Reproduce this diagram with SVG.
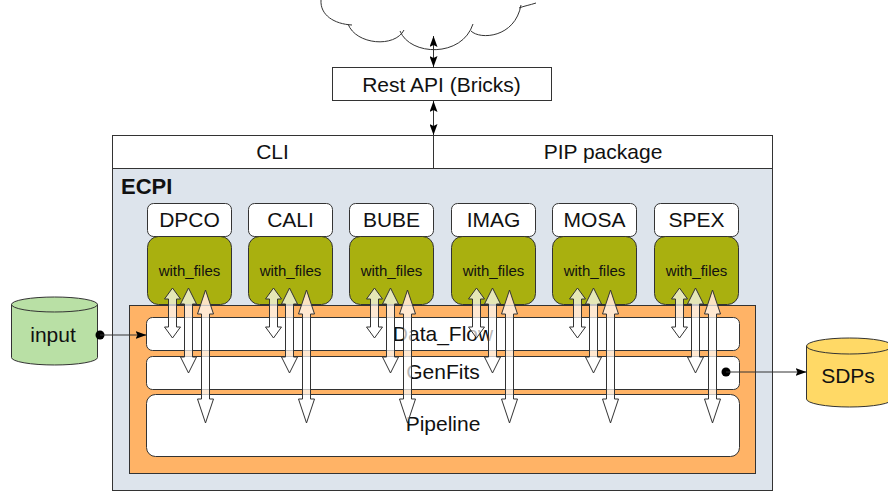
<svg xmlns="http://www.w3.org/2000/svg" width="888" height="493" viewBox="0 0 888 493">
<style>
text{font-family:"Liberation Sans",Arial,sans-serif;fill:#111;text-anchor:middle}
.ln{fill:none;stroke:#333;stroke-width:1}
.box{fill:#fff;stroke:#333;stroke-width:1}
.lab{fill:#fff;stroke:#333;stroke-width:1}
.grn{fill:#a9b00f;stroke:#333;stroke-width:1}
.t21{font-size:21px}
.t15{font-size:15px}
.ar{stroke:#333;stroke-width:1;fill:#fff;fill-opacity:0.7}
.ar3{stroke:#333;stroke-width:1;fill:url(#g3)}
</style>
<defs>
<marker id="ah" viewBox="0 0 11 8" refX="11" refY="4" markerWidth="11" markerHeight="8" markerUnits="userSpaceOnUse" orient="auto-start-reverse">
<path d="M0,0 L11,4 L0,8 L2,4 Z" fill="#000"/>
</marker>
<linearGradient id="g3" gradientUnits="userSpaceOnUse" x1="0" y1="290" x2="0" y2="423">
<stop offset="0" stop-color="#ffe6cc" stop-opacity="0.95"/>
<stop offset="0.115" stop-color="#ffe6cc" stop-opacity="0.95"/>
<stop offset="0.115" stop-color="#ffffff" stop-opacity="0.7"/>
<stop offset="1" stop-color="#ffffff" stop-opacity="0.7"/>
</linearGradient>
<path id="a1" d="M0,288 L8,299 L4,299 L4,327 L8,327 L0,338 L-8,327 L-4,327 L-4,299 L-8,299 Z"/>
<path id="a2" d="M0,288 L8,304 L4,304 L4,357 L8,357 L0,373 L-8,357 L-4,357 L-4,304 L-8,304 Z"/>
<path id="a3" d="M0,290 L8,314 L4,314 L4,399 L8,399 L0,423 L-8,399 L-4,399 L-4,314 L-8,314 Z"/>
</defs>

<g id="cloud" class="ln">
<path d="M321,0 C320,15 334,24 352,25"/>
<path d="M348,24 C356,45 395,48 404,30"/>
<path d="M400,31 C410,56 462,58 473,24"/>
<path d="M471,31 C480,40 515,38 521,5"/>
<path d="M519,8 C524,6 530,5 536,3"/>
</g>

<g id="rest-api">
<rect class="box" x="332.5" y="67.5" width="219" height="33"/>
<text class="t21" x="441.5" y="92">Rest API (Bricks)</text>
</g>

<g id="ecpi">
<rect x="112.5" y="168.5" width="660" height="322" fill="#dde4ec" stroke="#333"/>
<text x="121" y="194" style="font-size:22px;font-weight:bold;text-anchor:start">ECPI</text>
</g>

<g id="cli-pip">
<rect class="box" x="112.5" y="135.5" width="660" height="33"/>
<line class="ln" x1="433.5" y1="135.5" x2="433.5" y2="168.5"/>
<text class="t21" x="272.5" y="159">CLI</text>
<text class="t21" x="603" y="159">PIP package</text>
</g>

<g id="dpco">
<rect class="lab" x="147.5" y="203.5" width="84" height="33" rx="6"/>
<text class="t21" x="189.5" y="226.5">DPCO</text>
<rect class="grn" x="147.5" y="236.5" width="84" height="68" rx="11"/>
<text class="t15" x="189.5" y="276">with_files</text>
</g>
<g id="cali">
<rect class="lab" x="248.5" y="203.5" width="84" height="33" rx="6"/>
<text class="t21" x="290.5" y="226.5">CALI</text>
<rect class="grn" x="248.5" y="236.5" width="84" height="68" rx="11"/>
<text class="t15" x="290.5" y="276">with_files</text>
</g>
<g id="bube">
<rect class="lab" x="349.5" y="203.5" width="84" height="33" rx="6"/>
<text class="t21" x="391.5" y="226.5">BUBE</text>
<rect class="grn" x="349.5" y="236.5" width="84" height="68" rx="11"/>
<text class="t15" x="391.5" y="276">with_files</text>
</g>
<g id="imag">
<rect class="lab" x="451.5" y="203.5" width="84" height="33" rx="6"/>
<text class="t21" x="493.5" y="226.5">IMAG</text>
<rect class="grn" x="451.5" y="236.5" width="84" height="68" rx="11"/>
<text class="t15" x="493.5" y="276">with_files</text>
</g>
<g id="mosa">
<rect class="lab" x="552.5" y="203.5" width="84" height="33" rx="6"/>
<text class="t21" x="594.5" y="226.5">MOSA</text>
<rect class="grn" x="552.5" y="236.5" width="84" height="68" rx="11"/>
<text class="t15" x="594.5" y="276">with_files</text>
</g>
<g id="spex">
<rect class="lab" x="654.5" y="203.5" width="84" height="33" rx="6"/>
<text class="t21" x="696.5" y="226.5">SPEX</text>
<rect class="grn" x="654.5" y="236.5" width="84" height="68" rx="11"/>
<text class="t15" x="696.5" y="276">with_files</text>
</g>

<g id="core">
<rect x="129.5" y="305.5" width="626" height="168" fill="#ffb366" stroke="#333"/>
</g>
<g id="data-flow">
<rect class="box" x="146.5" y="317.5" width="593" height="33" rx="6"/>
<text class="t21" x="443" y="341">Data_Flow</text>
</g>
<g id="genfits">
<rect class="box" x="146.5" y="356.5" width="593" height="33" rx="6"/>
<text class="t21" x="443" y="379">GenFits</text>
</g>
<g id="pipeline">
<rect class="box" x="146.5" y="394.5" width="593" height="62" rx="9"/>
<text class="t21" x="443" y="431">Pipeline</text>
</g>

<g id="input">
<path d="M11.5,304.5 A43,7.5 0 0 1 97.5,304.5 L97.5,357.5 A43,7.5 0 0 1 11.5,357.5 Z" fill="#b9e0a5" stroke="#333"/>
<path d="M11.5,304.5 A43,7.5 0 0 0 97.5,304.5" class="ln"/>
<text class="t21" x="53" y="342">input</text>
</g>

<g id="sdps">
<path d="M806.5,346 A43,8 0 0 1 892.5,346 L892.5,399 A43,8 0 0 1 806.5,399 Z" fill="#ffd966" stroke="#333"/>
<path d="M806.5,346 A43,8 0 0 0 892.5,346" class="ln"/>
<text class="t21" x="848" y="383">SDPs</text>
</g>

<g id="connectors">
<line class="ln" x1="433.5" y1="36" x2="433.5" y2="67" marker-start="url(#ah)" marker-end="url(#ah)"/>
<line class="ln" x1="433.5" y1="101" x2="433.5" y2="135" marker-start="url(#ah)" marker-end="url(#ah)"/>
<circle cx="100" cy="335" r="4.5" fill="#000"/>
<line class="ln" x1="100" y1="335" x2="146.5" y2="335" marker-end="url(#ah)"/>
<circle cx="726" cy="372" r="4.5" fill="#000"/>
<line class="ln" x1="726" y1="372" x2="806.5" y2="372" marker-end="url(#ah)"/>
<g transform="translate(172.5,0)"><use href="#a1" class="ar"/><use href="#a2" class="ar" x="16"/><use href="#a3" class="ar3" x="33"/></g>
<g transform="translate(273.5,0)"><use href="#a1" class="ar"/><use href="#a2" class="ar" x="16"/><use href="#a3" class="ar3" x="33"/></g>
<g transform="translate(374.5,0)"><use href="#a1" class="ar"/><use href="#a2" class="ar" x="16"/><use href="#a3" class="ar3" x="33"/></g>
<g transform="translate(476.5,0)"><use href="#a1" class="ar"/><use href="#a2" class="ar" x="16"/><use href="#a3" class="ar3" x="33"/></g>
<g transform="translate(577.5,0)"><use href="#a1" class="ar"/><use href="#a2" class="ar" x="16"/><use href="#a3" class="ar3" x="33"/></g>
<g transform="translate(679.5,0)"><use href="#a1" class="ar"/><use href="#a2" class="ar" x="16"/><use href="#a3" class="ar3" x="33"/></g>
</g>
</svg>
